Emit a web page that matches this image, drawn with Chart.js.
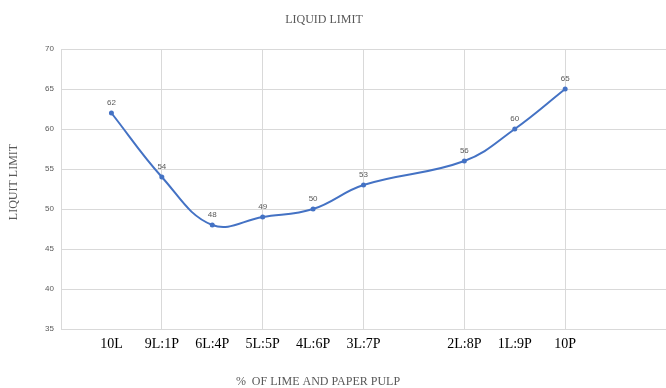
<!DOCTYPE html>
<html>
<head>
<meta charset="utf-8">
<title>Liquid Limit</title>
<script src="https://cdn.jsdelivr.net/npm/chart.js@4.4.1/dist/chart.umd.min.js"></script>
<style>
  html, body { margin: 0; padding: 0; background: #ffffff; }
  #chart { display: block; }
</style>
</head>
<body>
<canvas id="chart" width="666" height="388"></canvas>
<script>
// Mix proportions of lime (L) and paper pulp (P)
const mixLabels = ['10L', '9L:1P', '6L:4P', '5L:5P', '4L:6P', '3L:7P', '2L:8P', '1L:9P', '10P'];
// Position of each mix along the horizontal axis
const mixPositions = [1, 2, 3, 4, 5, 6, 8, 9, 10];
// Liquid limit measured for each mix
const liquidLimit = [62, 54, 48, 49, 50, 53, 56, 60, 65];
// Vertical grid lines and value-axis ticks
const gridPositions = [0, 2, 4, 6, 8, 10, 12];
const yTicks = [35, 40, 45, 50, 55, 60, 65, 70];

const SERIES_BLUE = '#4472C4';
const GRID_GREY = '#d9d9d9';
const TEXT_GREY = '#595959';
const SERIF = '"Liberation Serif", "Times New Roman", serif';

const points = mixPositions.map((x, i) => ({ x: x, y: liquidLimit[i] }));

// Chart title and axis titles
const captions = {
  id: 'captions',
  afterDraw(chart) {
    const { ctx } = chart;
    ctx.save();
    ctx.fillStyle = TEXT_GREY;
    ctx.font = '12px ' + SERIF;
    ctx.textAlign = 'center';
    ctx.textBaseline = 'middle';
    ctx.fillText('LIQUID LIMIT', 324, 20);
    ctx.fillText('%  OF LIME AND PAPER PULP', 318, 382);
    ctx.translate(14, 182);
    ctx.rotate(-Math.PI / 2);
    ctx.fillText('LIQUIT LIMIT', 0, 0);
    ctx.restore();
  }
};

// Value printed above each point
const valueLabels = {
  id: 'valueLabels',
  afterDatasetsDraw(chart) {
    const { ctx } = chart;
    const meta = chart.getDatasetMeta(0);
    ctx.save();
    ctx.fillStyle = TEXT_GREY;
    ctx.font = '8px "Liberation Sans", Arial, sans-serif';
    ctx.textAlign = 'center';
    ctx.textBaseline = 'middle';
    meta.data.forEach((pt, i) => {
      ctx.fillText(String(liquidLimit[i]), pt.x, pt.y - 10);
    });
    ctx.restore();
  }
};

new Chart(document.getElementById('chart'), {
  type: 'scatter',
  data: {
    datasets: [{
      data: points,
      showLine: true,
      borderColor: SERIES_BLUE,
      backgroundColor: SERIES_BLUE,
      borderWidth: 2,
      tension: 0.4,
      pointRadius: 2.5,
      pointBorderWidth: 0,
      pointHoverRadius: 2.5
    }]
  },
  options: {
    responsive: false,
    animation: false,
    devicePixelRatio: 1,
    layout: { autoPadding: false, padding: { top: 49, left: 0, right: 0, bottom: 0 } },
    plugins: {
      legend: { display: false },
      tooltip: { enabled: false },
      title: { display: false }
    },
    scales: {
      x: {
        type: 'linear',
        min: 0,
        max: 12,
        afterBuildTicks(scale) {
          const vals = Array.from(new Set(gridPositions.concat(mixPositions))).sort((a, b) => a - b);
          scale.ticks = vals.map(v => ({ value: v }));
        },
        afterFit(scale) {
          scale.height = 59;
          // plot runs right up to the canvas edge
          scale.paddingLeft = 0;
          scale.paddingRight = 0;
        },
        grid: {
          color: (c) => (c.tick && gridPositions.includes(c.tick.value)) ? GRID_GREY : 'rgba(0,0,0,0)',
          lineWidth: 1,
          drawTicks: false
        },
        border: { color: GRID_GREY },
        ticks: {
          autoSkip: false,
          maxRotation: 0,
          padding: 7,
          color: '#000000',
          font: { family: SERIF, size: 14 },
          callback: (v) => {
            const i = mixPositions.indexOf(v);
            return i < 0 ? '' : mixLabels[i];
          }
        }
      },
      y: {
        min: 35,
        max: 70,
        afterBuildTicks(scale) {
          scale.ticks = yTicks.map(v => ({ value: v }));
        },
        afterFit(scale) { scale.width = 61; },
        grid: { color: GRID_GREY, lineWidth: 1, drawTicks: false },
        border: { color: GRID_GREY },
        ticks: {
          padding: 7,
          color: TEXT_GREY,
          font: { family: '"Liberation Sans", Arial, sans-serif', size: 8 }
        }
      }
    }
  },
  plugins: [captions, valueLabels]
});
</script>
</body>
</html>
